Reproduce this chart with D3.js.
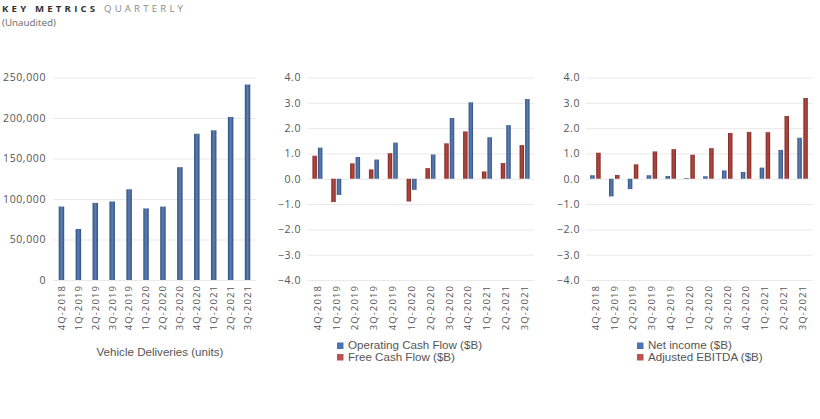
<!DOCTYPE html>
<html><head><meta charset="utf-8">
<script src="https://cdn.jsdelivr.net/npm/d3@7"></script>
<style>
html,body{margin:0;padding:0;background:#fff;}
svg{display:block;}
</style></head>
<body>
<svg id="chart" width="820" height="419"></svg>
<script>
const quarters = ["4Q-2018","1Q-2019","2Q-2019","3Q-2019","4Q-2019","1Q-2020","2Q-2020","3Q-2020","4Q-2020","1Q-2021","2Q-2021","3Q-2021"];
const deliveries = [90700, 63000, 95200, 97000, 112000, 88400, 90650, 139300, 180570, 184800, 201250, 241300];
const operatingCashFlow = [1.23, -0.64, 0.86, 0.76, 1.43, -0.44, 0.96, 2.40, 3.02, 1.64, 2.12, 3.15];
const freeCashFlow = [0.91, -0.92, 0.61, 0.37, 1.01, -0.90, 0.42, 1.40, 1.87, 0.29, 0.62, 1.33];
const netIncome = [0.14, -0.70, -0.41, 0.14, 0.11, 0.02, 0.10, 0.33, 0.27, 0.44, 1.14, 1.62];
const adjustedEbitda = [1.03, 0.15, 0.57, 1.08, 1.17, 0.95, 1.21, 1.81, 1.85, 1.84, 2.48, 3.19];
const deliveryTicks = [0, 50000, 100000, 150000, 200000, 250000];
const financeTicks = [-4, -3, -2, -1, 0, 1, 2, 3, 4];

const svg = d3.select("#chart");
const axisFont = "'Open Sans', sans-serif";
const legendFont = "'Liberation Sans', Arial, sans-serif";
const textColor = "#555";
const gridColor = "#e9e9e9";

// gradients
const defs = svg.append("defs");
function grad(id, dark, light) {
  const g = defs.append("linearGradient").attr("id", id).attr("x1", "0").attr("x2", "1").attr("y1", "0").attr("y2", "0");
  g.append("stop").attr("offset", "0%").attr("stop-color", dark);
  g.append("stop").attr("offset", "50%").attr("stop-color", light);
  g.append("stop").attr("offset", "100%").attr("stop-color", dark);
}
grad("gBlue", "#34507f", "#5a7fb6");
grad("gRed", "#7f2d29", "#b4473f");

// Title
const title = svg.append("text").attr("x", 2).attr("y", 12)
  .attr("font-family", "'Open Sans', sans-serif").attr("font-size", 9.6).attr("letter-spacing", 3.2);
title.append("tspan").attr("font-weight", 700).attr("fill", "#333").text("KEY METRICS ");
title.append("tspan").attr("fill", "#8a8a8a").text("QUARTERLY");
svg.append("text").attr("x", 2).attr("y", 26).attr("font-family", "'Open Sans', sans-serif")
  .attr("font-size", 9.8).attr("fill", "#666").text("(Unaudited)");

const yTop = 77.5, yBot = 280;

function drawPanel(opts) {
  const g = svg.append("g");
  const x = d3.scaleBand().domain(quarters).range([opts.x0, opts.x1]);
  const y = d3.scaleLinear().domain(opts.domain).range([yBot, yTop]);
  // grid
  g.selectAll("line.grid").data(opts.ticks).join("line")
    .attr("x1", opts.x0).attr("x2", opts.x1)
    .attr("y1", d => y(d) + 0.5).attr("y2", d => y(d) + 0.5)
    .attr("stroke", gridColor).attr("stroke-width", 1);
  // y axis labels
  const ya = d3.axisLeft(y).tickValues(opts.ticks).tickFormat(opts.fmt).tickSize(0).tickPadding(0);
  const yg = g.append("g").attr("transform", `translate(${opts.labelX},0)`).call(ya);
  yg.select(".domain").remove();
  yg.selectAll("text").attr("font-family", axisFont).attr("font-size", 10.5)
    .attr("letter-spacing", 0.6).attr("fill", textColor);
  // x axis labels
  const xa = d3.axisBottom(x).tickSize(0).tickPadding(0);
  const xg = g.append("g").attr("transform", `translate(0,${yBot + 5})`).call(xa);
  xg.select(".domain").remove();
  xg.selectAll("text").attr("font-family", axisFont).attr("font-size", 9.5)
    .attr("letter-spacing", 1.1).attr("fill", textColor)
    .attr("text-anchor", "end").attr("dy", "0.35em")
    .attr("transform", "rotate(-90)").attr("x", 0).attr("y", 0);
  // bars
  const n = opts.series.length;
  const bw = opts.barW, gap = opts.gap;
  const total = n * bw + (n - 1) * gap;
  opts.series.forEach((s, si) => {
    g.append("g").selectAll("rect").data(s.values).join("rect")
      .attr("x", (d, i) => x(quarters[i]) + x.bandwidth() / 2 - total / 2 + si * (bw + gap))
      .attr("width", bw)
      .attr("y", d => Math.min(y(d), y(0)))
      .attr("height", d => Math.max(Math.abs(y(d) - y(0)), 0.8))
      .attr("fill", s.fill);
  });
  return {x, y};
}

drawPanel({
  x0: 53, x1: 256, labelX: 46, domain: [0, 250000], ticks: deliveryTicks,
  fmt: d3.format(","), barW: 5.5, gap: 0,
  series: [{values: deliveries, fill: "url(#gBlue)"}]
});
drawPanel({
  x0: 308, x1: 534, labelX: 301, domain: [-4, 4], ticks: financeTicks,
  fmt: d3.format(".1f"), barW: 4.5, gap: 1,
  series: [{values: freeCashFlow, fill: "url(#gRed)"}, {values: operatingCashFlow, fill: "url(#gBlue)"}]
});
drawPanel({
  x0: 586, x1: 812, labelX: 580, domain: [-4, 4], ticks: financeTicks,
  fmt: d3.format(".1f"), barW: 4.5, gap: 1.5,
  series: [{values: netIncome, fill: "url(#gBlue)"}, {values: adjustedEbitda, fill: "url(#gRed)"}]
});

// captions / legends
svg.append("text").attr("x", 160).attr("y", 356).attr("text-anchor", "middle")
  .attr("font-family", legendFont).attr("font-size", 11.6).attr("fill", textColor)
  .text("Vehicle Deliveries (units)");

function legend(x0, y0, items) {
  items.forEach((it, i) => {
    svg.append("rect").attr("x", x0).attr("y", y0 + i * 11.5 - 6.5).attr("width", 6.5).attr("height", 6.5).attr("fill", it.color);
    svg.append("text").attr("x", x0 + 11).attr("y", y0 + i * 11.5).attr("font-family", legendFont)
      .attr("font-size", 11.6).attr("fill", textColor).text(it.label);
  });
}
legend(337, 349, [{label: "Operating Cash Flow ($B)", color: "#4b74b6"}, {label: "Free Cash Flow ($B)", color: "#c0504d"}]);
legend(637, 349, [{label: "Net income ($B)", color: "#4b74b6"}, {label: "Adjusted EBITDA ($B)", color: "#c0504d"}]);
</script>
</body></html>
